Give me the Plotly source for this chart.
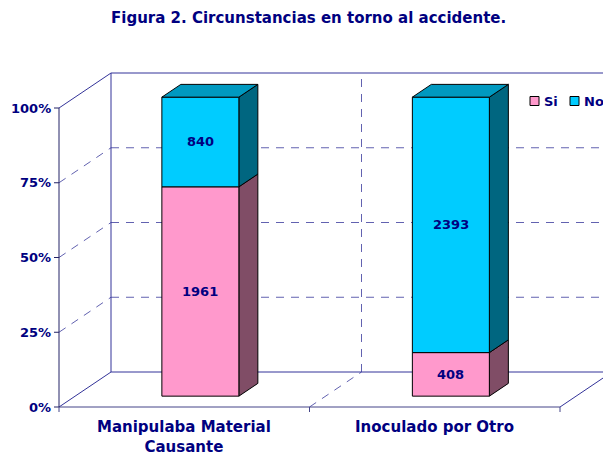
import plotly.graph_objects as go

# ---------------- data ----------------
categories = ["Manipulaba Material<br>Causante", "Inoculado por Otro"]
series_names = ["Si", "No"]
si_values = [1961, 408]
no_values = [840, 2393]
y_ticks = [0, 0.25, 0.5, 0.75, 1.0]
y_tick_labels = ["0%", "25%", "50%", "75%", "100%"]

# ---------------- style / geometry ----------------
W, H = 603, 457
FX0, FX1 = 59, 560          # front plane left / right (px)
FY0, FY1 = 407, 108         # front plane 0% / 100% (px)
PX_X = (FX1 - FX0) / len(categories)   # px per category unit
PX_Y = (FY0 - FY1)                     # px per 100 %
DX = 52 / PX_X              # full depth offset, x units
DY = 35 / PX_Y              # full depth offset, y units
BAR_W = 77 / PX_X           # bar width in category units
D_FRONT, D_BACK = 0.31, 0.675   # bar depth position (fraction of full depth)

TXT = "#000080"
AX = "#333399"
GRID = "#6262b0"
FONT = "DejaVu Sans"
DASH = "8px,7px"

colors = {"Si": ("#FF99CC", "#804D66", "#CC7AA3"),
          "No": ("#00CCFF", "#006680", "#0099C0")}

fig = go.Figure()


def line(xs, ys, color=AX, width=1, dash="solid"):
    fig.add_trace(go.Scatter(x=xs, y=ys, mode="lines",
                             line=dict(color=color, width=width, dash=dash),
                             hoverinfo="skip", showlegend=False))


def poly(xs, ys, fill):
    fig.add_trace(go.Scatter(x=xs + [xs[0]], y=ys + [ys[0]], mode="lines",
                             fill="toself", fillcolor=fill,
                             line=dict(color="black", width=1),
                             hoverinfo="skip", showlegend=False))


n = len(categories)
# ---- gridlines (dashed) ----
for v in y_ticks[1:-1]:
    line([0, DX], [v, v + DY], GRID, 1, DASH)            # left wall
    line([DX, n + DX + 1], [v + DY, v + DY], GRID, 1, DASH)  # back wall
for k in range(1, n):
    line([k, k + DX], [0, DY], GRID, 1, DASH)            # floor
    line([k + DX, k + DX], [DY, 1 + DY], GRID, 1, DASH)  # back wall vertical

# ---- walls (solid) ----
line([DX, DX], [DY, 1 + DY])
line([DX, n + DX + 1], [1 + DY, 1 + DY])
line([DX, n + DX + 1], [DY, DY])
line([0, DX], [0, DY])
line([0, DX], [1, 1 + DY])
line([n, n + DX], [0, DY])
line([0, n], [0, 0], "#444488")
line([0, 0], [0, 1], "#222266")
for v in y_ticks:
    line([0, -5 / PX_X], [v, v], "#222266")
for k in range(n + 1):
    line([k, k], [0, -5 / PX_Y], "#444488")

# ---- bars ----
ox, oy = D_FRONT * DX, D_FRONT * DY
ex, ey = (D_BACK - D_FRONT) * DX, (D_BACK - D_FRONT) * DY
annotations = []
for i in range(n):
    total = si_values[i] + no_values[i]
    c = i + 0.5
    xl, xr = c - BAR_W / 2 + ox, c + BAR_W / 2 + ox
    base = 0.0
    segs = [("Si", si_values[i]), ("No", no_values[i])]
    for j, (name, val) in enumerate(segs):
        top = base + val / total
        front, side, topc = colors[name]
        b, t = base + oy, top + oy
        poly([xr, xr + ex, xr + ex, xr], [b, b + ey, t + ey, t], side)
        poly([xl, xr, xr, xl], [b, b, t, t], front)
        if j == len(segs) - 1:
            poly([xl, xr, xr + ex, xl + ex], [t, t, t + ey, t + ey], topc)
        annotations.append(dict(x=c + ox, y=(b + t) / 2, text=str(val),
                                showarrow=False, xref="x", yref="y",
                                font=dict(family=FONT, size=13, color=TXT, weight="bold")))
        base = top

# ---- axis labels ----
for v, lab in zip(y_ticks, y_tick_labels):
    annotations.append(dict(x=0, y=v, text=lab, xanchor="right", yanchor="middle",
                            xshift=-6, showarrow=False, xref="x", yref="y",
                            font=dict(family=FONT, size=13, color=TXT, weight="bold")))
for i, cat in enumerate(categories):
    annotations.append(dict(x=i + 0.5, y=0, text=cat, xanchor="center", yanchor="top",
                            yshift=-9, showarrow=False, xref="x", yref="y",
                            font=dict(family=FONT, size=15, color=TXT, weight="bold")))

# ---- title ----
annotations.append(dict(x=308 / W, y=1 - 18 / H, xref="paper", yref="paper",
                        text="Figura 2. Circunstancias en torno al accidente.",
                        showarrow=False, xanchor="center", yanchor="middle",
                        font=dict(family=FONT, size=15, color=TXT, weight="bold")))

# ---- legend (manual) ----
shapes = []
leg_x = [530, 570]
leg_y = 101
for k, name in enumerate(series_names):
    x0 = leg_x[k]
    shapes.append(dict(type="rect", xref="paper", yref="paper",
                       x0=x0 / W, x1=(x0 + 9) / W,
                       y0=1 - (leg_y + 4.5) / H, y1=1 - (leg_y - 4.5) / H,
                       fillcolor=colors[name][0], line=dict(color="black", width=1)))
    annotations.append(dict(x=(x0 + 12) / W, y=1 - leg_y / H, xref="paper", yref="paper",
                            text=name, showarrow=False, xanchor="left", yanchor="middle",
                            font=dict(family=FONT, size=13, color=TXT, weight="bold")))

fig.update_layout(
    width=W, height=H, autosize=False,
    margin=dict(l=0, r=0, t=0, b=0),
    paper_bgcolor="white", plot_bgcolor="white",
    xaxis=dict(range=[-FX0 / PX_X, (W - FX0) / PX_X], visible=False, fixedrange=True),
    yaxis=dict(range=[(FY0 - H) / PX_Y, FY0 / PX_Y], visible=False, fixedrange=True),
    showlegend=False, hovermode=False,
    annotations=annotations, shapes=shapes,
)

fig.write_html("out.html", config={"displayModeBar": False},
               post_script="document.body.style.margin='0';document.body.style.overflow='hidden';")
